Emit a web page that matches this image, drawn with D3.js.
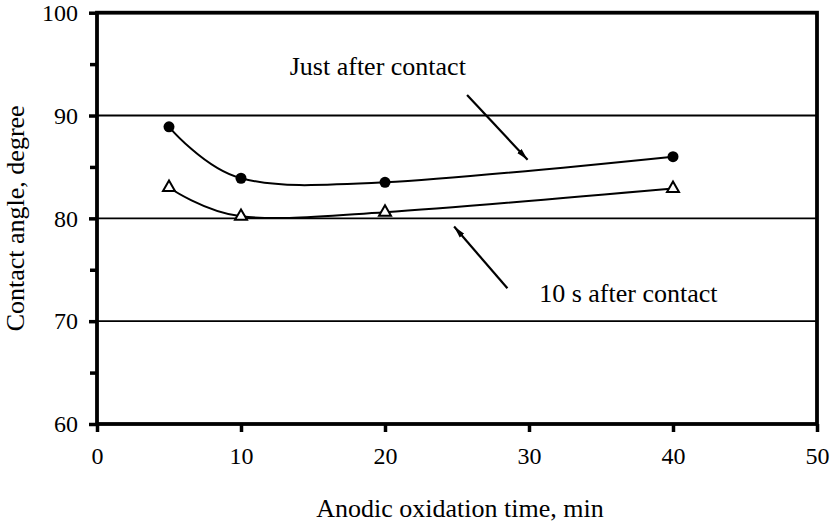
<!DOCTYPE html>
<html>
<head>
<meta charset="utf-8">
<script src="https://cdn.jsdelivr.net/npm/d3@7"></script>
<style>
  body { margin: 0; background: #fff; }
  svg text { font-family: "Liberation Serif", "Times New Roman", serif; fill: #000; }
  .axis path, .axis line { stroke: #000; }
</style>
</head>
<body>
<svg id="chart" width="831" height="523"></svg>
<script>
  // anodic oxidation time (min)
  var times = [5, 10, 20, 40];
  // contact angle (degree)
  var justAfter = [88.9, 83.9, 83.5, 86.0];
  var tenSecAfter = [83.0, 80.2, 80.6, 82.9];

  var xTicks = [0, 10, 20, 30, 40, 50];
  var yTicks = [60, 70, 80, 90, 100];
  var yMinorTicks = [65, 75, 85, 95];
  var gridValues = [70, 80, 90];

  var notes = [
    { text: "Just after contact", x: 19.5, y: 93.9, from: [25.7, 92.0], to: [29.9, 85.7] },
    { text: "10 s after contact", x: 36.9, y: 71.85, from: [28.5, 73.2], to: [24.8, 79.2] }
  ];

  var W = 831, H = 523;
  var margin = { top: 12.7, right: 14, bottom: 99, left: 97 };
  var w = W - margin.left - margin.right,
      h = H - margin.top - margin.bottom;

  var svg = d3.select("#chart");
  var g = svg.append("g").attr("transform", "translate(" + margin.left + "," + margin.top + ")");

  var x = d3.scaleLinear().domain([0, 50]).range([0, w]);
  var y = d3.scaleLinear().domain([60, 100]).range([h, 0]);

  // gridlines
  g.selectAll(".grid").data(gridValues).enter().append("line")
    .attr("x1", 0).attr("x2", w)
    .attr("y1", function(d) { return y(d); }).attr("y2", function(d) { return y(d); })
    .attr("stroke", "#000").attr("stroke-width", 1.8);

  // axes
  var yAxis = g.append("g").attr("class", "axis")
    .call(d3.axisLeft(y).tickValues(yTicks).tickSize(8).tickSizeOuter(0).tickPadding(11));
  g.append("g").attr("class", "axis")
    .call(d3.axisLeft(y).tickValues(yMinorTicks).tickSize(7).tickSizeOuter(0).tickFormat(""));
  var xAxis = g.append("g").attr("class", "axis").attr("transform", "translate(0," + h + ")")
    .call(d3.axisBottom(x).tickValues(xTicks).tickSize(8).tickSizeOuter(0).tickPadding(15));

  g.selectAll(".axis path").remove();
  g.selectAll(".axis line").attr("stroke-width", 3.5);
  g.selectAll(".axis text").style("font-size", "24px");

  // frame
  g.append("rect").attr("x", 0).attr("y", 0).attr("width", w).attr("height", h)
    .attr("fill", "none").attr("stroke", "#000").attr("stroke-width", 3.8);

  // series lines
  var line = d3.line()
    .x(function(d) { return x(d[0]); })
    .y(function(d) { return y(d[1]); })
    .curve(d3.curveCardinal.tension(0));

  var s1 = d3.zip(times, justAfter);
  var s2 = d3.zip(times, tenSecAfter);

  [s1, s2].forEach(function(s) {
    g.append("path").datum(s).attr("d", line)
      .attr("fill", "none").attr("stroke", "#000").attr("stroke-width", 2);
  });

  g.selectAll(".dot").data(s1).enter().append("circle")
    .attr("cx", function(d) { return x(d[0]); })
    .attr("cy", function(d) { return y(d[1]); })
    .attr("r", 5.5).attr("fill", "#000");

  g.selectAll(".tri").data(s2).enter().append("path")
    .attr("d", d3.symbol().type(d3.symbolTriangle).size(62))
    .attr("transform", function(d) { return "translate(" + x(d[0]) + "," + y(d[1]) + ")"; })
    .attr("fill", "#fff").attr("stroke", "#000").attr("stroke-width", 2);

  // arrowheads
  svg.append("defs").append("marker")
    .attr("id", "head").attr("viewBox", "0 0 12 8").attr("refX", 12).attr("refY", 4)
    .attr("markerWidth", 12).attr("markerHeight", 8).attr("markerUnits", "userSpaceOnUse")
    .attr("orient", "auto")
    .append("path").attr("d", "M0,1 L12,4 L0,7 Z").attr("fill", "#000");

  notes.forEach(function(n) {
    g.append("text").attr("x", x(n.x)).attr("y", y(n.y))
      .attr("text-anchor", "middle").style("font-size", "26px").text(n.text);
    g.append("line")
      .attr("x1", x(n.from[0])).attr("y1", y(n.from[1]))
      .attr("x2", x(n.to[0])).attr("y2", y(n.to[1]))
      .attr("stroke", "#000").attr("stroke-width", 2.2)
      .attr("marker-end", "url(#head)");
  });

  // axis titles
  svg.append("text").attr("x", margin.left + w / 2 + 3).attr("y", 517)
    .attr("text-anchor", "middle").style("font-size", "26px")
    .text("Anodic oxidation time, min");

  svg.append("text").attr("transform", "translate(24," + (margin.top + h / 2) + ") rotate(-90)")
    .attr("text-anchor", "middle").style("font-size", "26px")
    .text("Contact angle, degree");
</script>
</body>
</html>
